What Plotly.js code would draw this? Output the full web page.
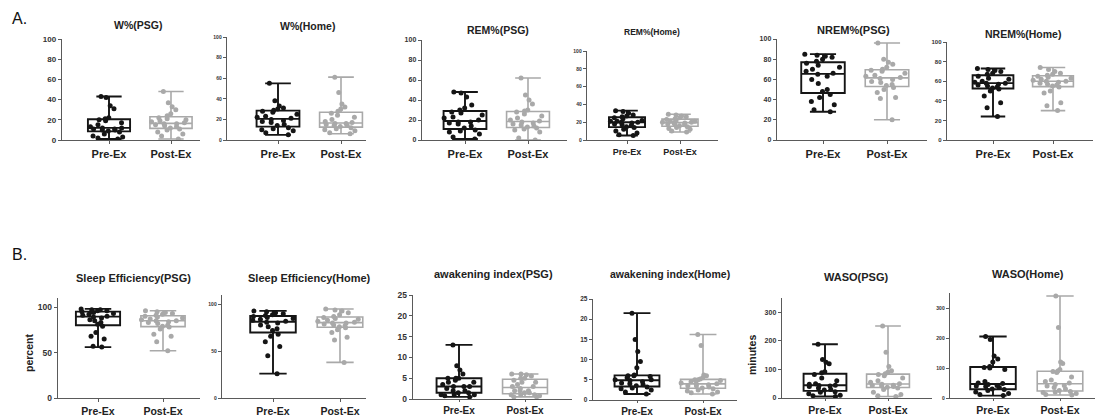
<!DOCTYPE html>
<html><head><meta charset="utf-8">
<script src="https://cdn.plot.ly/plotly-3.0.1.min.js"></script>
<style>html,body{margin:0;padding:0;background:#fff}#chart{width:1099px;height:416px}</style>
</head><body><div id="chart"></div>
<script>
// ---------- data ----------
const categories = ['Pre-Ex', 'Post-Ex'];
const panelTitles = ['W%(PSG)', 'W%(Home)', 'REM%(PSG)', 'REM%(Home)', 'NREM%(PSG)', 'NREM%(Home)',
  'Sleep Efficiency(PSG)', 'Sleep Efficiency(Home)', 'awakening index(PSG)', 'awakening index(Home)', 'WASO(PSG)', 'WASO(Home)'];
const rowLabels = ['A.', 'B.'];
const yTitles = ['percent', 'minutes'];

const wPsgPre = [1,2,3,4,6,8,9,10,10,11,11,12,12,13,15,17,19,20,21,22,31,34,42,43];
const wPsgPost = [1,4,6,8,10,11,12,13,14,15,16,16,17,18,19,20,21,22,24,26,30,33,37,48];
const wHomePre = [5,7,9,10,11,12,14,15,17,18,19,20,21,22,23,25,27,28,29,30,31,33,38,55];
const wHomePost = [6,7,9,10,11,12,13,14,14,15,16,16,17,18,20,22,24,26,28,30,32,35,46,61];
const remPsgPre = [1,3,6,8,9,10,12,14,16,17,18,18,20,22,23,25,27,28,30,32,35,43,47,48];
const remPsgPost = [0,2,8,10,11,12,13,14,15,16,17,18,19,20,22,24,26,28,29,30,36,40,45,62];
const remHomePre = [5,6,8,10,12,14,15,16,17,18,19,20,20,21,21,22,24,25,26,27,28,30,32,33];
const remHomePost = [9,10,12,13,14,15,16,17,18,18,19,19,20,20,21,21,22,23,24,25,26,27,28,29];
const nremPsgPre = [28,30,35,38,42,45,48,50,56,60,63,65,66,68,70,72,74,76,78,80,82,83,84,85];
const nremPsgPost = [20,41,42,47,50,52,54,55,57,58,60,61,62,63,64,66,68,69,70,72,75,77,80,96];
const nremHomePre = [24,33,38,45,50,52,53,54,55,56,57,58,58,59,60,62,63,65,67,68,70,71,72,73];
const nremHomePost = [30,35,38,48,50,54,55,56,57,58,59,60,60,61,62,63,64,65,66,67,68,70,72,74];
const sePsgPre = [56,57,65,68,72,79,81,83,85,86,88,89,90,91,92,93,94,95,95,96,96,97,97,98];
const sePsgPost = [52,62,68,70,76,78,79,80,82,83,84,85,85,86,87,88,89,90,91,92,93,94,95,96];
const seHomePre = [26,45,55,60,66,68,72,74,76,78,80,81,82,83,84,85,86,87,88,89,90,91,92,93];
const seHomePost = [38,62,65,70,73,75,76,77,78,79,80,80,81,82,83,84,85,86,87,89,91,93,94,95];
const aiPsgPre = [0.5,0.8,1,1,1,1.5,1.5,2,2,2.5,3,3,3,3.5,4,4,4.5,5,5,5,6,7,8,13];
const aiPsgPost = [0.5,0.5,0.8,1,1,1,1.5,1.5,2,2,2,2.5,3,3,3.5,4,4,4.5,5,5,5.5,5.8,6,6];
const aiHomePre = [1.5,2,2.5,2.8,3,3.2,3.5,3.8,4,4.2,4.5,4.8,5,5,5.5,5.8,6,6,6.2,8,9.5,12,15,21.5];
const aiHomePost = [1.5,1.8,2,2.2,2.5,2.8,3,3.2,3.5,3.5,3.8,4,4,4.2,4.5,4.8,5,5,5.2,5.5,6,6.2,13.5,16.2];
const wasoPsgPre = [5,8,10,15,20,22,28,30,35,40,42,44,45,48,50,60,70,82,88,92,120,125,135,188];
const wasoPsgPost = [5,8,12,20,30,35,38,40,42,44,45,48,50,55,60,70,78,82,85,90,95,110,160,252];
const wasoHomePre = [8,12,15,20,25,28,30,35,38,40,42,45,48,50,55,95,100,102,105,120,130,140,195,205];
const wasoHomePost = [10,12,15,18,20,22,25,30,35,40,42,45,50,55,60,70,85,88,90,95,115,120,235,340];

const preSeries = [wPsgPre, wHomePre, remPsgPre, remHomePre, nremPsgPre, nremHomePre,
  sePsgPre, seHomePre, aiPsgPre, aiHomePre, wasoPsgPre, wasoHomePre];
const postSeries = [wPsgPost, wHomePost, remPsgPost, remHomePost, nremPsgPost, nremHomePost,
  sePsgPost, seHomePost, aiPsgPost, aiHomePost, wasoPsgPost, wasoHomePost];

// ---------- layout (pixel geometry) ----------
const W = 1099, H = 416;
const px = v => v / W, py = v => 1 - v / H;
// L, R: x-axis ends; pre/post: category centers; y0: zero line; yT: top of y axis
const geo = [
  {L:62, R:200, pre:109, post:171, y0:140, yT:39, ymax:100, dt:20, yf:8, xf:11, tl:3, tf:10.5, tx:138, ty:25},
  {L:227, R:366, pre:278, post:341, y0:140, yT:37, ymax:100, dt:20, yf:5, xf:11, tl:3, tf:10.5, tx:307, ty:26},
  {L:422, R:567, pre:465, post:528, y0:140, yT:40, ymax:100, dt:20, yf:7, xf:11, tl:3, tf:10.5, tx:498, ty:30},
  {L:587, R:718, pre:627, post:680, y0:140, yT:51, ymax:100, dt:20, yf:5, xf:9, tl:3, tf:8.5, tx:652, ty:32},
  {L:777, R:927, pre:823, post:887, y0:140, yT:39, ymax:100, dt:20, yf:7, xf:11, tl:3, tf:11, tx:853, ty:30},
  {L:947, R:1093, pre:993, post:1053, y0:140, yT:42, ymax:100, dt:20, yf:6, xf:11, tl:3, tf:10.5, tx:1023, ty:34},
  {L:58, R:200, pre:98, post:163, y0:398, yT:298, ymax:110, dt:50, yf:8.5, xf:10.5, tl:3, tf:11, tx:133, ty:278},
  {L:222, R:366, pre:273, post:340, y0:398, yT:295, ymax:110, dt:50, yf:5, xf:10.5, tl:3, tf:11, tx:309, ty:278},
  {L:413, R:572, pre:459, post:525, y0:399, yT:295, ymax:25, dt:5, yf:8.5, xf:10, tl:2, tf:11, tx:493, ty:274},
  {L:593, R:737, pre:637, post:703, y0:400, yT:299, ymax:25, dt:5, yf:6.5, xf:10, tl:2, tf:10.5, tx:670, ty:274},
  {L:782, R:932, pre:825, post:888, y0:398, yT:298, ymax:350, dt:100, yf:7, xf:10.5, tl:2, tf:11, tx:856, ty:277},
  {L:950, R:1095, pre:993, post:1060, y0:398, yT:293, ymax:350, dt:100, yf:5, xf:10.5, tl:2, tf:11, tx:1028, ty:274}
];

const preColor = '#151515', postColor = '#a9a9a9', axisColor = '#5a5a5a';
const FONT = 'Liberation Sans, Arial, sans-serif';

const data = [];
const layout = {
  width: W, height: H, margin: {l:0, r:0, t:0, b:0},
  paper_bgcolor: '#fff', plot_bgcolor: 'rgba(0,0,0,0)',
  showlegend: false, boxmode: 'overlay',
  font: {family: FONT, color: '#222'},
  annotations: []
};

geo.forEach((g, i) => {
  const n = i + 1;
  const xa = 'x' + (n === 1 ? '' : n), ya = 'y' + (n === 1 ? '' : n);
  const span = g.post - g.pre;
  const xr = [-(g.pre - g.L) / span, 1 + (g.R - g.post) / span];
  layout['xaxis' + (n === 1 ? '' : n)] = {
    domain: [px(g.L), px(g.R)], range: xr, anchor: ya,
    tickvals: [0, 1], ticktext: categories, showgrid: false, zeroline: false,
    showline: true, linecolor: axisColor, linewidth: 1.3,
    ticks: 'outside', ticklen: g.tl, tickwidth: 1, tickcolor: axisColor,
    tickfont: {family: FONT, size: g.xf, weight: 'bold', color: '#222'}, fixedrange: true
  };
  layout['yaxis' + (n === 1 ? '' : n)] = {
    domain: [py(g.y0), py(g.yT)], range: [0, g.ymax], anchor: xa,
    dtick: g.dt, tick0: 0, showgrid: false, zeroline: false,
    showline: true, linecolor: axisColor, linewidth: 1.3,
    ticks: 'outside', ticklen: 3, tickwidth: 1, tickcolor: axisColor,
    tickfont: {family: FONT, size: g.yf, weight: 'bold', color: '#333'}, fixedrange: true
  };
  layout.annotations.push({
    text: panelTitles[i], xref: 'paper', yref: 'paper', x: px(g.tx), y: py(g.ty),
    xanchor: 'center', yanchor: 'middle', showarrow: false,
    font: {family: FONT, size: g.tf, weight: 'bold', color: '#222'}
  });
  [[preSeries[i], 0, preColor, 1.9], [postSeries[i], 1, postColor, 1.6]].forEach(([vals, pos, col, lw]) => {
    // box + min/max whiskers
    data.push({
      type: 'box', y: vals, x0: pos, xaxis: xa, yaxis: ya, width: 0.68,
      boxpoints: false, whiskerwidth: 0.6, fillcolor: 'rgba(0,0,0,0)',
      line: {color: col, width: lw}, hoverinfo: 'skip'
    });
    // individual points
    data.push({
      type: 'box', y: vals, x0: pos, xaxis: xa, yaxis: ya, width: 0.68,
      boxpoints: 'all', jitter: 1, pointpos: 0, fillcolor: 'rgba(0,0,0,0)',
      line: {color: 'rgba(0,0,0,0)', width: 0},
      marker: {color: col, size: 5}, hoverinfo: 'y'
    });
  });
});

// row labels
layout.annotations.push({text: rowLabels[0], xref:'paper', yref:'paper', x: px(10), y: py(19),
  xanchor:'left', yanchor:'middle', showarrow:false, font:{family: FONT, size: 16, color:'#111'}});
layout.annotations.push({text: rowLabels[1], xref:'paper', yref:'paper', x: px(10), y: py(254),
  xanchor:'left', yanchor:'middle', showarrow:false, font:{family: FONT, size: 16, color:'#111'}});
// y-axis titles
layout.annotations.push({text: yTitles[0], xref:'paper', yref:'paper', x: px(29), y: py(353),
  xanchor:'center', yanchor:'middle', textangle: -90, showarrow:false,
  font:{family: FONT, size: 10.5, weight:'bold', color:'#222'}});
layout.annotations.push({text: yTitles[1], xref:'paper', yref:'paper', x: px(752), y: py(355),
  xanchor:'center', yanchor:'middle', textangle: -90, showarrow:false,
  font:{family: FONT, size: 10.5, weight:'bold', color:'#222'}});

Plotly.newPlot('chart', data, layout, {displayModeBar: false, staticPlot: true});
</script>
</body></html>
